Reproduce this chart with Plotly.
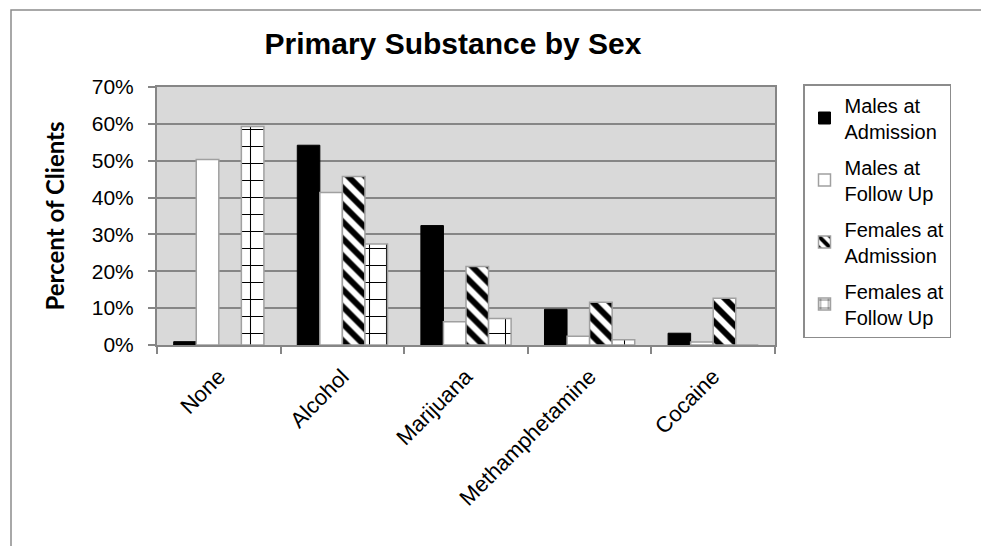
import plotly.graph_objects as go

# Primary substance reported, by sex and time point (share of clients)
substances = ["None", "Alcohol", "Marijuana", "Methamphetamine", "Cocaine"]
males_admission = [0.009, 0.542, 0.324, 0.097, 0.032]
males_follow_up = [0.503, 0.414, 0.063, 0.024, 0.008]
females_admission = [0.0, 0.457, 0.213, 0.116, 0.127]
females_follow_up = [0.593, 0.274, 0.072, 0.014, 0.0]

series_names = [
    "Males at<br>Admission",
    "Males at<br>Follow Up",
    "Females at<br>Admission",
    "Females at<br>Follow Up",
]

W, H = 981, 546
L, R, T, B = 157, 206, 87, 201
plot_w = W - L - R
plot_h = H - T - B

GRID = "#868686"
OUTLINE = "#a0a0a0"
FONT = "Liberation Sans, Arial, sans-serif"

fig = go.Figure()

fig.add_trace(go.Bar(
    name=series_names[0], x=substances, y=males_admission, legendgroup="a",
    marker=dict(color="black", line=dict(color="black", width=1)),
))
fig.add_trace(go.Bar(
    name=series_names[1], x=substances, y=males_follow_up, legendgroup="b",
    marker=dict(color="white", line=dict(color=OUTLINE, width=1.5)),
))
fig.add_trace(go.Bar(
    name=series_names[2], x=substances, y=females_admission, legendgroup="c",
    marker=dict(
        color="white", line=dict(color=OUTLINE, width=1.5),
        pattern=dict(shape="\\", fgcolor="black", bgcolor="white",
                     size=12, solidity=0.5, fillmode="replace"),
    ),
))
fig.add_trace(go.Bar(
    name=series_names[3], x=substances, y=females_follow_up, legendgroup="d",
    marker=dict(
        color="white", line=dict(color=OUTLINE, width=1.5),
        pattern=dict(shape="+", fgcolor="black", bgcolor="white",
                     size=17, solidity=0.12, fillmode="replace"),
    ),
))

# chart-area frame (only the left and top edges fall inside the page)
def px_x(px):
    return (px - L) / plot_w

def px_y(py):
    return (H - B - py) / plot_h

fig.add_shape(type="rect", xref="paper", yref="paper",
              x0=px_x(11), x1=px_x(1000), y0=px_y(560), y1=px_y(10),
              line=dict(color="#8c8c8c", width=1.5), fillcolor="rgba(0,0,0,0)",
              layer="below")

fig.update_layout(
    width=W, height=H,
    margin=dict(l=L, r=R, t=T, b=B),
    paper_bgcolor="white",
    plot_bgcolor="#d9d9d9",
    barmode="group",
    bargap=0.27,
    bargroupgap=0,
    font=dict(family=FONT, size=20, color="black"),
    title=dict(
        text="<b>Primary Substance by Sex</b>",
        font=dict(family=FONT, size=30, color="black"),
        x=px_x(453), xref="paper", xanchor="center",
        y=1 - 43 / H, yref="container", yanchor="middle",
    ),
    legend=dict(
        x=px_x(803), y=px_y(84), xanchor="left", yanchor="top",
        bordercolor="#8c8c8c", borderwidth=1.5, bgcolor="white",
        font=dict(family=FONT, size=20, color="black"),
        tracegroupgap=7,
        itemwidth=30,
    ),
    xaxis=dict(
        type="category",
        tickangle=-45,
        tickson="boundaries",
        ticks="outside", ticklen=7, tickcolor=GRID, tickwidth=1.5,
        showline=True, linecolor=GRID, linewidth=2, mirror=True,
        showgrid=False,
        ticklabelstandoff=8,
        tickfont=dict(family=FONT, size=22),
    ),
    yaxis=dict(
        range=[0, 0.7], dtick=0.1, tickformat=".0%",
        ticks="outside", ticklen=7, tickcolor=GRID, tickwidth=1.5,
        showline=True, linecolor=GRID, linewidth=2, mirror=True,
        showgrid=True, gridcolor=GRID, gridwidth=1.5,
        zeroline=False,
        ticklabelstandoff=10,
        tickfont=dict(family=FONT, size=21),
        title=dict(text="<b>Percent of Clients</b>",
                   font=dict(family="Lato", size=24),
                   standoff=20),
    ),
)

fig.write_html("out.html")
